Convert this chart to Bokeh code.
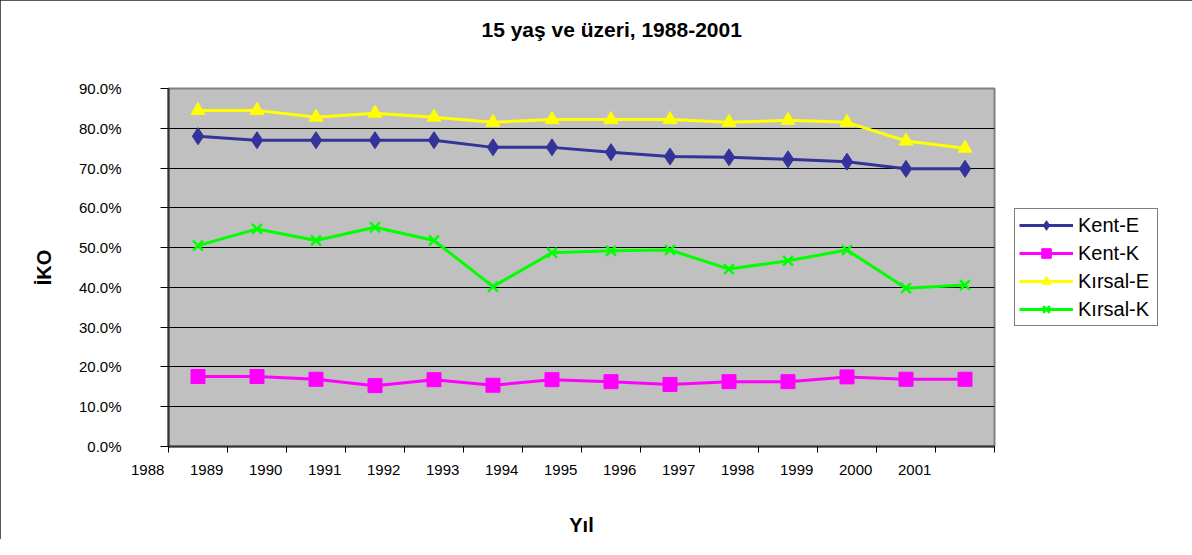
from bokeh.plotting import figure
from bokeh.models import (Range1d, FixedTicker, NumeralTickFormatter, Legend, LegendItem,
                          Title)
from bokeh.embed import file_html
from bokeh.resources import INLINE

years = [1988, 1989, 1990, 1991, 1992, 1993, 1994, 1995, 1996, 1997, 1998, 1999, 2000, 2001]
kent_e = [0.780, 0.770, 0.770, 0.770, 0.770, 0.752, 0.752, 0.740, 0.729, 0.727, 0.722, 0.716, 0.698, 0.698]
kent_k = [0.176, 0.176, 0.169, 0.153, 0.168, 0.154, 0.168, 0.163, 0.156, 0.163, 0.163, 0.175, 0.169, 0.169]
kirsal_e = [0.845, 0.845, 0.828, 0.838, 0.828, 0.815, 0.822, 0.822, 0.822, 0.815, 0.820, 0.815, 0.768, 0.750]
kirsal_k = [0.505, 0.547, 0.518, 0.551, 0.518, 0.402, 0.487, 0.492, 0.494, 0.446, 0.467, 0.494, 0.398, 0.406]
y_ticks = [0.0, 0.1, 0.2, 0.3, 0.4, 0.5, 0.6, 0.7, 0.8, 0.9]
tick_labels = [str(y) for y in years]

FONT = "Liberation Sans"
PAD = "\u00a0" * 10   # pushes each year label to the left of its tick

n = len(years)
xs = [i + 0.5 for i in range(n)]

p = figure(frame_width=826, frame_height=358, output_backend="svg", toolbar_location=None,
           x_range=Range1d(0, n), y_range=Range1d(0, 0.9),
           min_border_left=168, min_border_right=182, min_border_top=88, min_border_bottom=93)
p.styles = {"outline": "2px solid #222222", "outline-offset": "-2px"}
p.background_fill_color = "#C0C0C0"
p.border_fill_color = "white"
p.outline_line_color = "#808080"
p.outline_line_width = 2

# title (outermost) + spacer title next to the frame
p.title.text = "15 yaş ve üzeri, 1988-2001"
p.title.text_font = FONT
p.title.text_font_size = "21px"
p.title.text_font_style = "bold"
p.title.text_color = "black"
p.title.align = "left"
p.title.offset = 313
p.title.vertical_align = "top"
p.title.standoff = 32
spacer = Title(text=" ", text_font_size="1px", standoff=27)
p.add_layout(spacer, "above")

p.xaxis.ticker = FixedTicker(ticks=list(range(n + 1)))
p.xaxis.major_label_overrides = {i: tick_labels[i] + PAD for i in range(n)} | {n: ""}
p.xaxis.minor_tick_line_color = None
p.xaxis.major_tick_out = 6
p.xaxis.major_tick_in = 0
p.xaxis.major_tick_line_color = "black"
p.xaxis.axis_line_color = "#333333"
p.xaxis.axis_line_width = 2
p.xaxis.major_label_standoff = 8
p.xaxis.major_label_text_font = FONT
p.xaxis.major_label_text_font_size = "15px"
p.xaxis.major_label_text_color = "black"
p.xaxis.axis_label = "Yıl"
p.xaxis.axis_label_text_font = FONT
p.xaxis.axis_label_text_font_size = "20px"
p.xaxis.axis_label_text_font_style = "bold"
p.xaxis.axis_label_text_color = "black"
p.xaxis.axis_label_standoff = 33

p.yaxis.ticker = FixedTicker(ticks=y_ticks)
p.yaxis.formatter = NumeralTickFormatter(format="0.0%")
p.yaxis.minor_tick_line_color = None
p.yaxis.major_tick_out = 8
p.yaxis.major_tick_in = 0
p.yaxis.major_tick_line_color = "black"
p.yaxis.axis_line_color = "#333333"
p.yaxis.axis_line_width = 2
p.yaxis.major_label_standoff = 39
p.yaxis.major_label_text_font = FONT
p.yaxis.major_label_text_font_size = "15px"
p.yaxis.major_label_text_color = "black"
p.yaxis.axis_label = "İKO"
p.yaxis.axis_label_text_font = FONT
p.yaxis.axis_label_text_font_size = "20px"
p.yaxis.axis_label_text_font_style = "bold"
p.yaxis.axis_label_text_color = "black"
p.yaxis.axis_label_standoff = 21

p.xgrid.grid_line_color = None
p.ygrid.grid_line_color = "black"
p.ygrid.grid_line_width = 1

series = [
    ("Kent-E", kent_e, "#333399", "diamond", 17),
    ("Kent-K", kent_k, "#FF00FF", "square", 14),
    ("Kırsal-E", kirsal_e, "#FFFF00", "triangle", 14),
    ("Kırsal-K", kirsal_k, "#00FF00", "x", 14),
]
items = []
for name, vals, color, marker, size in series:
    l = p.line(xs, vals, line_color=color, line_width=3)
    if marker == "x":
        s = p.scatter(xs, vals, marker=marker, size=size, line_color=color, line_width=2.5)
    else:
        s = p.scatter(xs, vals, marker=marker, size=size, fill_color=color, line_color=color)
    items.append(LegendItem(label=name, renderers=[l, s]))

legend = Legend(items=items, location="center_left", orientation="vertical")
legend.label_text_font = FONT
legend.label_text_font_size = "20px"
legend.label_text_color = "black"
legend.glyph_width = 54
legend.glyph_height = 24
legend.label_height = 24
legend.label_width = 75
legend.label_standoff = 5
legend.spacing = 4
legend.padding = 4
legend.margin = 20
legend.border_line_color = "black"
legend.border_line_width = 1
legend.background_fill_color = "white"
legend.background_fill_alpha = 1
p.add_layout(legend, "right")

open("out.html", "w").write(file_html(p, INLINE))
